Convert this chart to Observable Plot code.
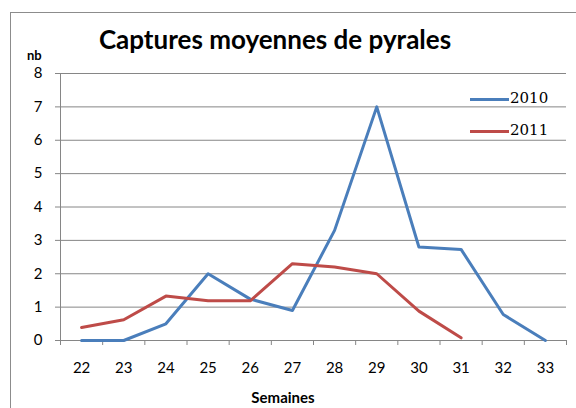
<!DOCTYPE html>
<html>
<head>
<meta charset="utf-8">
<script src="https://cdn.jsdelivr.net/npm/d3@7"></script>
<script src="https://cdn.jsdelivr.net/npm/@observablehq/plot@0.6"></script>
<style>
  body { margin: 0; background: #fff; }
  #wrap { position: relative; width: 576px; height: 408px; overflow: hidden; font-family: Lato, "Open Sans", sans-serif; }
  #border { position: absolute; left: 10px; top: 12px; width: 600px; height: 450px; border: 1px solid #8c8c8c; box-sizing: border-box; }
  #title { position: absolute; left: 0; width: 550px; top: 23px; text-align: center; font-weight: bold; font-size: 26px; color: #000; }
  #nb { position: absolute; left: 27px; top: 47px; font-weight: bold; font-size: 13px; }
  #xlab { position: absolute; left: 218px; width: 130px; text-align: center; top: 388px; line-height: 18px; font-weight: bold; font-size: 15px; }
  .leg { position: absolute; left: 470px; font-size: 15px; font-family: "DejaVu Serif", serif; }
  .leg span.sw { display: inline-block; width: 39px; height: 3px; vertical-align: middle; margin-right: 1px; }
  #plot { position: absolute; left: 0; top: 0; }
</style>
</head>
<body>
<div id="wrap">
  <div id="plot"></div>
  <div id="border"></div>
  <div id="title">Captures moyennes de pyrales</div>
  <div id="nb">nb</div>
  <div id="xlab">Semaines</div>
  <div class="leg" id="leg0" style="top:89px"><span class="sw" style="background:#4a7ebb"></span>2010</div>
  <div class="leg" id="leg1" style="top:121px"><span class="sw" style="background:#be4b48"></span>2011</div>
</div>
<script>
const weeks = [22, 23, 24, 25, 26, 27, 28, 29, 30, 31, 32, 33];
const values2010 = [0, 0, 0.5, 2.0, 1.24, 0.9, 3.3, 7.0, 2.8, 2.73, 0.78, 0];
const weeks2011 = [22, 23, 24, 25, 26, 27, 28, 29, 30, 31];
const values2011 = [0.39, 0.62, 1.33, 1.19, 1.19, 2.3, 2.2, 2.0, 0.88, 0.08];
const yTicks = [0, 1, 2, 3, 4, 5, 6, 7, 8];
const seriesNames = ["2010", "2011"];
const colors = ["#4a7ebb", "#be4b48"];

const data2010 = weeks.map((w, i) => ({week: w, value: values2010[i]}));
const data2011 = weeks2011.map((w, i) => ({week: w, value: values2011[i]}));
const edges = [...weeks.map(w => w - 0.5), weeks[weeks.length - 1] + 0.5];

const chart = Plot.plot({
  width: 576,
  height: 408,
  marginLeft: 60,
  marginRight: 10,
  marginTop: 73,
  marginBottom: 68,
  style: {fontFamily: "Lato, 'Open Sans', sans-serif", fontSize: "15px", color: "#000", background: "transparent"},
  x: {domain: [21.5, 33.5]},
  y: {domain: [0, 8]},
  marks: [
    Plot.gridY(yTicks, {stroke: "#868686", strokeOpacity: 1, strokeWidth: 1}),
    Plot.axisY({ticks: yTicks, tickSize: 5, tickPadding: 13, stroke: "#868686", label: null, fontSize: 15, fill: "#000"}),
    Plot.axisX({ticks: weeks, tickSize: 0, tickPadding: 22, tickFormat: d => String(d), label: null, fontSize: 15, fill: "#000"}),
    Plot.axisX({ticks: edges, tickSize: 5, tickFormat: () => "", label: null, stroke: "#868686"}),
    Plot.ruleX([21.5], {stroke: "#868686"}),
    Plot.ruleY([0], {stroke: "#868686"}),
    Plot.line(data2010, {x: "week", y: "value", stroke: colors[0], strokeWidth: 3}),
    Plot.line(data2011, {x: "week", y: "value", stroke: colors[1], strokeWidth: 3})
  ]
});
document.getElementById("plot").appendChild(chart);
</script>
</body>
</html>
